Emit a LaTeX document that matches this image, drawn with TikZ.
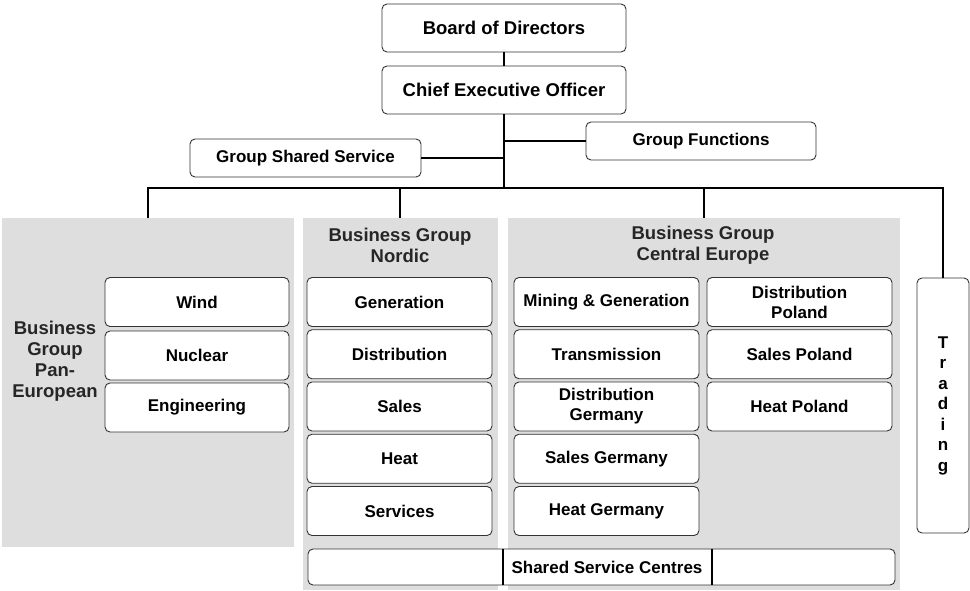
\documentclass[tikz,border=0pt]{standalone}
\usepackage{xcolor}
\usepackage{fontspec}
\setmainfont{Liberation Sans}
\usepackage{tikz}
\definecolor{panelgray}{RGB}{222,222,222}

\begin{document}
\begin{tikzpicture}[x=1pt,y=-1pt]
			\tikzstyle{unit}=[draw=black!80, line width=0.9pt, rounded corners=5pt, fill=white, inner sep=0pt, align=center, minimum width=185pt, minimum height=49pt, font=\fontsize{17}{20}\selectfont\bfseries]
			\tikzstyle{top}=[unit, minimum width=244pt, minimum height=48pt, font=\fontsize{18.5}{22}\selectfont\bfseries]
			\tikzstyle{panel}=[fill=panelgray, inner sep=0pt]
			\tikzstyle{head}=[align=center, font=\fontsize{18.5}{21}\selectfont\bfseries, text=black!85]
			\tikzset{edge/.style = {line width=1.1pt}}
			\useasboundingbox (0,0) rectangle (970,590);
			
			\node[panel, minimum width=292pt, minimum height=329pt](pan) at (148,382.5) {};
			\node[panel, minimum width=195pt, minimum height=372pt](nordic) at (400,404) {};
			\node[panel, minimum width=392pt, minimum height=372pt](ce) at (704,404) {};
			
			\node[top](board) at (504,28) {Board of Directors};
			\node[top](ceo) at (504,90) {Chief Executive Officer};
			\node[unit, minimum width=230pt, minimum height=38pt](gf) at (701,141) {Group Functions};
			\node[unit, minimum width=231pt, minimum height=38pt](gss) at (305.5,158) {Group Shared Service};
			\coordinate (hub) at (504,188);
			
			\node[head](panhead) at (55,361) {Business\\Group\\Pan-\\European};
			\node[unit, minimum width=184pt](wind) at (197,302) {Wind};
			\node[unit, minimum width=184pt](nuclear) at (197,355.5) {Nuclear};
			\node[unit, minimum width=184pt](engineering) at (197,407.5) {Engineering};
			
			\node[head](nordichead) at (400,245) {Business Group\\Nordic};
			\node[unit](generation) at (399.5,302) {Generation};
			\node[unit](distribution) at (399.5,354.25) {Distribution};
			\node[unit](sales) at (399.5,406.5) {Sales};
			\node[unit](heat) at (399.5,458.75) {Heat};
			\node[unit](services) at (399.5,511) {Services};
			
			\node[head](cehead) at (703,245) {Business Group\\Central Europe};
			\node[unit](mining) at (606.5,302) {Mining \& Generation};
			\node[unit](transmission) at (606.5,354.25) {Transmission};
			\node[unit](distde) at (606.5,406.5) {Distribution\\Germany};
			\node[unit](salesde) at (606.5,458.75) {Sales Germany};
			\node[unit](heatde) at (606.5,511) {Heat Germany};
			\node[unit](distpl) at (799.5,302) {Distribution\\Poland};
			\node[unit](salespl) at (799.5,354.25) {Sales Poland};
			\node[unit](heatpl) at (799.5,406.5) {Heat Poland};
			
			\node[unit, minimum width=587pt, minimum height=36pt](ssc) at (601.5,567) {};
			\node[font=\fontsize{17}{20}\selectfont\bfseries](ssctext) at (607,567) {Shared Service Centres};
			\node[unit, minimum width=52pt, minimum height=255pt, font=\fontsize{17}{20.5}\selectfont\bfseries](trading) at (943,405.5) {T\\r\\a\\d\\i\\n\\g};
			
			\draw[edge] (board) -- (ceo);
			\draw[edge] (ceo) -- (hub);
			\draw[edge] (gf.west) -- (gf.west -| hub);
			\draw[edge] (gss.east) -- (gss.east -| hub);
			\draw[edge] (pan.north) |- (hub);
			\draw[edge] (trading.north) |- (hub);
			\draw[edge] (nordic.north) -- (nordic.north |- hub);
			\draw[edge] (ce.north) -- (ce.north |- hub);
			\draw[edge] ([xshift=-98.5pt]ssc.north) -- ([xshift=-98.5pt]ssc.south);
			\draw[edge] ([xshift=110.5pt]ssc.north) -- ([xshift=110.5pt]ssc.south);
\end{tikzpicture}
\end{document}
